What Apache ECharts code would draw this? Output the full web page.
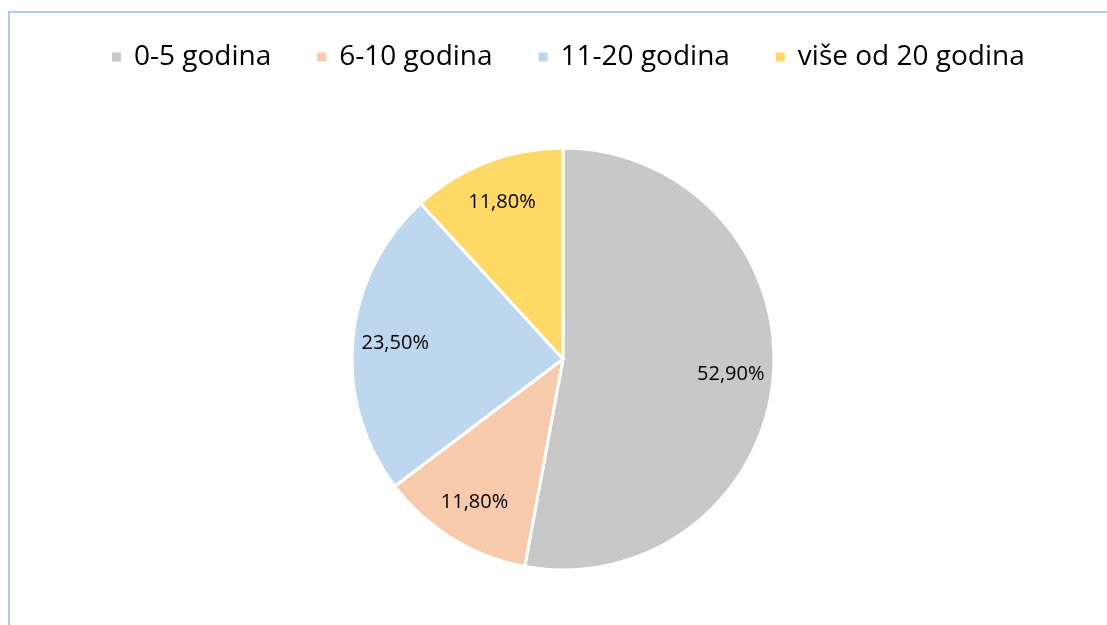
<!DOCTYPE html>
<html>
<head>
<meta charset="utf-8">
<script src="https://cdn.jsdelivr.net/npm/echarts@6/dist/echarts.min.js"></script>
<style>
  html, body { margin: 0; padding: 0; background: #fff; overflow: hidden; }
  #chart { width: 1107px; height: 625px; }
  #frame {
    position: absolute; left: 8px; top: 11px; width: 1200px; height: 700px;
    border: 2px solid #b4cbe9; pointer-events: none;
  }
</style>
</head>
<body>
<div id="chart"></div>
<div id="frame"></div>
<script>
// categories and shares (%), clockwise from 12 o'clock
const categories = ["0-5 godina", "6-10 godina", "11-20 godina", "više od 20 godina"];
const shares = [52.9, 11.8, 23.5, 11.8];
const colors = ["#c8c8c8", "#f7caac", "#bdd7ee", "#ffd966"];

const pieData = categories.map((name, i) => ({ name, value: shares[i] }));
const fmt = (v) => v.toFixed(2).replace(".", ",") + "%";

const chart = echarts.init(document.getElementById("chart"));
chart.setOption({
  color: colors,
  animation: false,
  legend: {
    top: 38,
    left: 105,
    icon: "rect",
    itemWidth: 11,
    itemHeight: 11,
    itemGap: 44,
    textStyle: { fontFamily: "Open Sans", fontSize: 28, color: "#000", padding: [0, 0, 0, 7] },
    data: categories,
  },
  series: [
    {
      // the visible pie
      type: "pie",
      center: [563, 359],
      radius: 211,
      startAngle: 90,
      silent: true,
      label: { show: false },
      labelLine: { show: false },
      itemStyle: { borderColor: "#fff", borderWidth: 3 },
      data: pieData,
    },
    {
      // transparent ring, only to put the labels at ~78% of the radius
      type: "pie",
      center: [563, 359],
      radius: [120, 211],
      startAngle: 90,
      silent: true,
      itemStyle: { color: "rgba(0,0,0,0)" },
      label: {
        position: "inside",
        formatter: (p) => fmt(p.value),
        fontFamily: "Open Sans",
        fontSize: 20,
        color: "#000",
      },
      labelLine: { show: false },
      data: pieData,
    },
  ],
});
</script>
</body>
</html>
